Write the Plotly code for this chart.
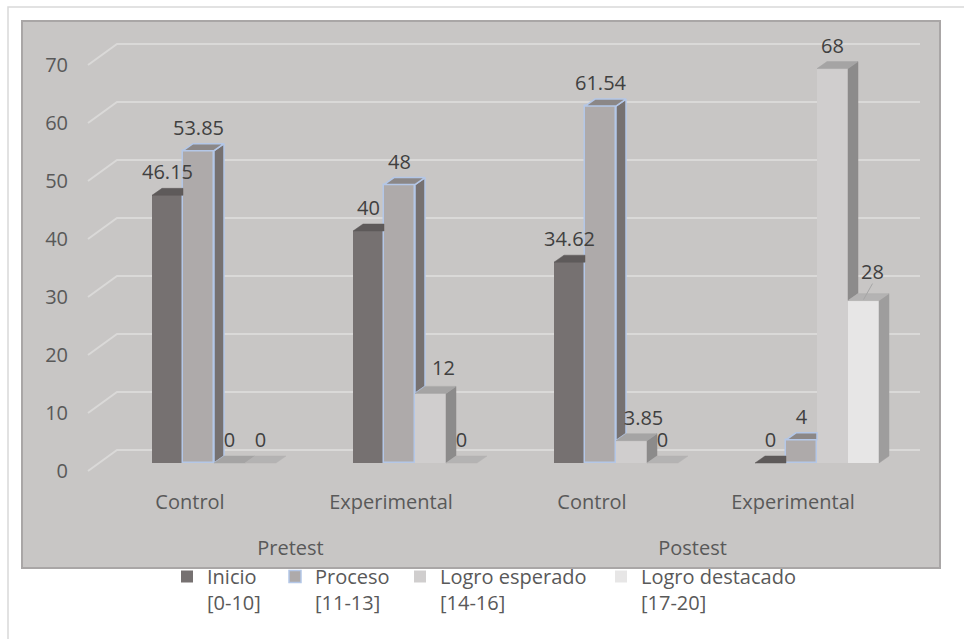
import plotly.graph_objects as go

# ---------------- data ----------------
groups = ["Pretest", "Postest"]
categories = ["Control", "Experimental", "Control", "Experimental"]
series_names = ["Inicio<br>[0-10]", "Proceso<br>[11-13]",
                "Logro esperado<br>[14-16]", "Logro destacado<br>[17-20]"]
inicio = [46.15, 40, 34.62, 0]
proceso = [53.85, 48, 61.54, 4]
logro_esperado = [0, 12, 3.85, 68]
logro_destacado = [0, 0, 0, 28]
y_ticks = [0, 10, 20, 30, 40, 50, 60, 70]

series_values = [inicio, proceso, logro_esperado, logro_destacado]

# ---------------- style ----------------
FONT = "Open Sans"
AXIS_TXT = "#595959"
LABEL_TXT = "#404040"
BG_GRAY = "#C8C6C5"
GRID = "#DAD9D8"
FRONT = ["#767171", "#AEAAAA", "#D0CECE", "#E7E6E6"]
SIDE = ["#5A5656", "#767171", "#8C8B8B", "#9E9D9D"]
TOP = ["#5E5A5A", "#8B8787", "#A5A4A4", "#B4B3B3"]
EDGE = [None, "#B4C7E7", None, None]

W, H = 964, 639
L, R, T, B = 22, 940, 21, 568          # plot-area pixels
PX_CAT = 201.0                          # pixels per category
PX_VAL = 5.8                            # pixels per value unit
CAT0_PX = 190.0                         # pixel x of first category center
ZERO_PX = 463.0                         # pixel y of value 0 (bar front)


def ux(px):
    return px / PX_CAT


def uy(px):
    return px / PX_VAL


x_range = [(L - CAT0_PX) / PX_CAT, (R - CAT0_PX) / PX_CAT]
y_range = [(ZERO_PX - B) / PX_VAL, (ZERO_PX - T) / PX_VAL]

BAR_W = ux(31)
GROUP_OFF = ux(152 - CAT0_PX)
DX = ux(10)
DY = uy(7)
LABEL_DY = uy(21)
FRONT_SHIFT = uy(8)      # front edge of floor lies below bar base
BACK_SHIFT = uy(13)      # back wall above bar base
GRID_X0 = ux(88 - CAT0_PX)
GRID_X1 = ux(117 - CAT0_PX)
GRID_X2 = ux(920 - CAT0_PX)
# manual label nudges (series, category) -> (dx px, dy px up)
LABEL_NUDGE = {(2, 1): (13, 2), (2, 2): (12, 0), (3, 3): (9, 6)}
LEADER = {(3, 3)}

n_cat = len(categories)
n_ser = len(series_values)

fig = go.Figure()

# front faces as bars
for s, vals in enumerate(series_values):
    xs = [c + GROUP_OFF + s * BAR_W + BAR_W / 2 for c in range(n_cat)]
    fig.add_trace(go.Bar(
        x=xs, y=vals, width=BAR_W, name=series_names[s],
        marker=dict(color=FRONT[s],
                    line=dict(color=EDGE[s] or FRONT[s], width=1.5 if EDGE[s] else 0)),
        legend="legend" if s == 0 else f"legend{s + 1}",
        hoverinfo="skip",
    ))

# side and top faces (visible portions)
for s, vals in enumerate(series_values):
    side_x, side_y, top_x, top_y = [], [], [], []
    for c in range(n_cat):
        v = vals[c]
        xl = c + GROUP_OFF + s * BAR_W
        xr = xl + BAR_W
        vn = series_values[s + 1][c] if s + 1 < n_ser else None
        lo = 0 if vn is None else min(vn, v)
        if v > lo:
            side_x += [xr, xr + DX, xr + DX, xr, xr, None]
            side_y += [lo, lo + DY, v + DY, v, lo, None]
        if vn is not None and vn > v:
            top_x += [xl, xl + DX, xr, xr, xl, None]
            top_y += [v, v + DY, v + DY, v, v, None]
        else:
            top_x += [xl, xl + DX, xr + DX, xr, xl, None]
            top_y += [v, v + DY, v + DY, v, v, None]
    lc = EDGE[s] or SIDE[s]
    fig.add_trace(go.Scatter(x=side_x, y=side_y, mode="lines", fill="toself",
                             fillcolor=SIDE[s],
                             line=dict(color=lc, width=1.5 if EDGE[s] else 0.5),
                             showlegend=False, hoverinfo="skip"))
    lc = EDGE[s] or TOP[s]
    fig.add_trace(go.Scatter(x=top_x, y=top_y, mode="lines", fill="toself",
                             fillcolor=TOP[s],
                             line=dict(color=lc, width=1.5 if EDGE[s] else 0.5),
                             showlegend=False, hoverinfo="skip"))

# data labels
lab_x, lab_y, lab_t = [], [], []
lead_x, lead_y = [], []
for s, vals in enumerate(series_values):
    for c in range(n_cat):
        v = vals[c]
        xc = c + GROUP_OFF + s * BAR_W + BAR_W / 2
        ndx, ndy = LABEL_NUDGE.get((s, c), (0, 0))
        lab_x.append(xc + ux(ndx))
        lab_y.append(v + LABEL_DY + uy(ndy))
        lab_t.append(f"{v:g}")
        if (s, c) in LEADER:
            lead_x += [xc, xc + ux(ndx)]
            lead_y += [v + uy(1), v + LABEL_DY + uy(ndy) - uy(10)]
fig.add_trace(go.Scatter(x=lead_x, y=lead_y, mode="lines",
                         line=dict(color="#A6A6A6", width=1),
                         showlegend=False, hoverinfo="skip"))
fig.add_trace(go.Scatter(x=lab_x, y=lab_y, text=lab_t, mode="text",
                         textposition="middle center",
                         textfont=dict(family=FONT, size=20, color=LABEL_TXT),
                         cliponaxis=False, showlegend=False, hoverinfo="skip"))

# invisible anchor trace so the overlay axes (tick labels / group labels) are drawn
fig.add_trace(go.Scatter(x=[0.5], y=[0], xaxis="x2", yaxis="y2", mode="markers",
                         marker=dict(opacity=0), showlegend=False, hoverinfo="skip"))

# 3-D gridlines (front diagonal + back wall)
shapes = []
for t in y_ticks:
    shapes.append(dict(type="path", xref="x", yref="y", layer="below",
                       path=f"M{GRID_X0},{t - FRONT_SHIFT} L{GRID_X1},{t + BACK_SHIFT} L{GRID_X2},{t + BACK_SHIFT}",
                       line=dict(color=GRID, width=2)))
# gray chart area border and outer frame
shapes.append(dict(type="rect", xref="paper", yref="paper", x0=0, x1=1, y0=0, y1=1,
                   layer="below", line=dict(color="#A9A6A6", width=2)))
shapes.append(dict(type="rect", xref="paper", yref="paper",
                   x0=(8 - L) / (R - L), x1=1.1, y0=-0.3, y1=(B - 7) / (B - T),
                   layer="below", line=dict(color="#D9D9D9", width=1.5)))

# legends: one per series, placed individually
leg_text_px = [207, 315, 440, 641]
legends = {}
for s in range(n_ser):
    key = "legend" if s == 0 else f"legend{s + 1}"
    legends[key] = dict(
        x=(leg_text_px[s] - 40 - L) / (R - L), xanchor="left",
        y=(B - 557) / (B - T), yanchor="top",
        orientation="v", valign="top", bgcolor="rgba(0,0,0,0)",
        font=dict(family=FONT, size=20, color=AXIS_TXT),
        borderwidth=0,
    )

fig.update_layout(
    width=W, height=H,
    margin=dict(l=L, r=W - R, t=T, b=H - B, pad=0, autoexpand=False),
    paper_bgcolor="white", plot_bgcolor=BG_GRAY,
    barmode="overlay", bargap=0,
    font=dict(family=FONT, size=20, color=AXIS_TXT),
    shapes=shapes,
    xaxis=dict(range=x_range, tickvals=list(range(n_cat)), ticktext=categories,
               showgrid=False, zeroline=False, showline=False, ticks="",
               anchor="free", position=(B - 488) / (B - T),
               tickfont=dict(family=FONT, size=20, color=AXIS_TXT)),
    xaxis2=dict(range=x_range, overlaying="x", side="bottom",
                tickvals=[2 * j + 0.5 for j in range(len(groups))], ticktext=groups,
                showgrid=False, zeroline=False, showline=False, ticks="",
                anchor="free", position=(B - 534) / (B - T),
                tickfont=dict(family=FONT, size=20, color=AXIS_TXT)),
    yaxis=dict(range=y_range, visible=False),
    yaxis2=dict(range=[y_range[0] + FRONT_SHIFT, y_range[1] + FRONT_SHIFT],
                overlaying="y", side="left", anchor="free",
                position=(68 - L) / (R - L),
                tickvals=y_ticks, showgrid=False, zeroline=False, showline=False,
                ticks="", tickfont=dict(family=FONT, size=20, color=AXIS_TXT)),
    **legends,
)

fig.write_html("out.html")
